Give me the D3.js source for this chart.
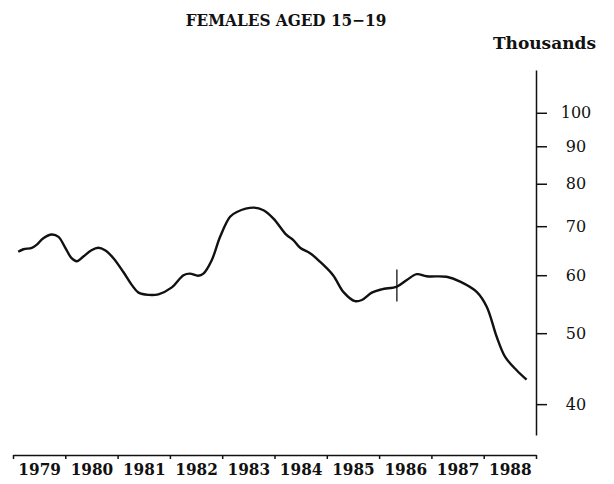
<!DOCTYPE html>
<html>
<head>
<meta charset="utf-8">
<script src="https://cdn.jsdelivr.net/npm/d3@7"></script>
<style>
  body { margin: 0; background: #fff; }
  text { font-family: "DejaVu Serif Condensed", "DejaVu Serif", serif; font-stretch: condensed; fill: #111; }
  text.wide { font-family: "DejaVu Serif", serif; font-stretch: normal; }
</style>
</head>
<body>
<div id="chart"></div>
<script>
// decimal year of each traced point
var times = [1979.10, 1979.20, 1979.36, 1979.45, 1979.58, 1979.74, 1979.87, 1979.99,
  1980.12, 1980.22, 1980.34, 1980.50, 1980.63, 1980.76, 1980.92,
  1981.11, 1981.27, 1981.40, 1981.59, 1981.78,
  1982.03, 1982.26, 1982.38, 1982.54, 1982.64, 1982.80, 1982.96,
  1983.15, 1983.28, 1983.60, 1983.79, 1983.98,
  1984.23, 1984.36, 1984.49, 1984.68, 1984.87,
  1985.12, 1985.32, 1985.54, 1985.67, 1985.86,
  1986.05, 1986.34, 1986.53, 1986.72, 1986.91,
  1987.29, 1987.55, 1987.87,
  1988.06, 1988.25, 1988.41, 1988.63, 1988.82];

// thousands
var values = [64.6, 65.1, 65.4, 66.0, 67.4, 68.2, 67.7, 65.6,
  63.3, 62.7, 63.6, 64.9, 65.4, 64.9, 63.3,
  60.6, 58.2, 56.8, 56.4, 56.5,
  57.7, 60.0, 60.3, 59.9, 60.3, 62.9, 67.7,
  72.1, 73.2, 74.2, 73.6, 71.7,
  68.1, 67.0, 65.4, 64.3, 62.6,
  60.0, 56.9, 55.3, 55.5, 56.8,
  57.4, 57.9, 59.1, 60.2, 59.8,
  59.7, 58.8, 56.9,
  54.3, 49.4, 46.4, 44.5, 43.2];

var years = [1979, 1980, 1981, 1982, 1983, 1984, 1985, 1986, 1987, 1988];
var yTicks = [40, 50, 60, 70, 80, 90, 100];

// break marker on the line
var markTime = 1986.34;
var markValue = 57.9;

var width = 614, height = 484;

var svg = d3.select("#chart")
  .append("svg")
    .attr("width", width)
    .attr("height", height);

var x = d3.scaleLinear().domain([1979, 1989]).range([13, 536]);
var y = d3.scaleLog().domain([36.3, 114.4]).range([435, 70]);

// title
svg.append("text")
  .attr("x", 286)
  .attr("y", 26)
  .attr("text-anchor", "middle")
  .style("font-size", "17px")
  .style("font-weight", "bold")
  .text("FEMALES AGED 15\u221219");

svg.append("text")
  .attr("class", "wide")
  .attr("x", 596)
  .attr("y", 49)
  .attr("text-anchor", "end")
  .style("font-size", "17px")
  .style("font-weight", "bold")
  .text("Thousands");

// y axis on the right
var yAxis = d3.axisRight(y)
  .tickValues(yTicks)
  .tickFormat(d3.format("d"))
  .tickSize(11)
  .tickSizeOuter(0);

var gy = svg.append("g")
  .attr("transform", "translate(" + x(1989) + ",0)")
  .call(yAxis)
  .attr("font-family", null);
gy.selectAll("line, path").attr("stroke", "#111").attr("stroke-width", 1.5);
gy.selectAll("text")
  .attr("class", "wide")
  .attr("x", 40)
  .attr("text-anchor", "middle")
  .style("font-size", "16px")
  .attr("fill", "#111");

// x axis: ticks at year boundaries, labels mid year
var xAxis = d3.axisBottom(x)
  .tickValues(d3.range(1979, 1990))
  .tickSize(4)
  .tickSizeOuter(0)
  .tickFormat("");

var gx = svg.append("g")
  .attr("transform", "translate(0,455)")
  .call(xAxis);
gx.selectAll("line, path").attr("stroke", "#111").attr("stroke-width", 1.5);

var xLabels = d3.axisBottom(x)
  .tickValues(years.map(function(d) { return d + 0.5; }))
  .tickSize(0)
  .tickPadding(8)
  .tickFormat(function(d) { return Math.floor(d); });

var gl = svg.append("g")
  .attr("transform", "translate(0,455)")
  .call(xLabels)
  .attr("font-family", null);
gl.select(".domain").remove();
gl.selectAll("text")
  .style("font-size", "17px")
  .style("font-weight", "bold")
  .attr("fill", "#111");

// the series
var data = times.map(function(t, i) { return { t: t, v: values[i] }; });

svg.append("path")
  .datum(data)
  .attr("fill", "none")
  .attr("stroke", "#111")
  .attr("stroke-width", 2.4)
  .attr("stroke-linejoin", "round")
  .attr("d", d3.line()
    .curve(d3.curveCatmullRom)
    .x(function(d) { return x(d.t); })
    .y(function(d) { return y(d.v); }));

svg.append("line")
  .attr("x1", x(markTime))
  .attr("x2", x(markTime))
  .attr("y1", y(markValue) - 17)
  .attr("y2", y(markValue) + 15)
  .attr("stroke", "#111")
  .attr("stroke-width", 1.3);
</script>
</body>
</html>
